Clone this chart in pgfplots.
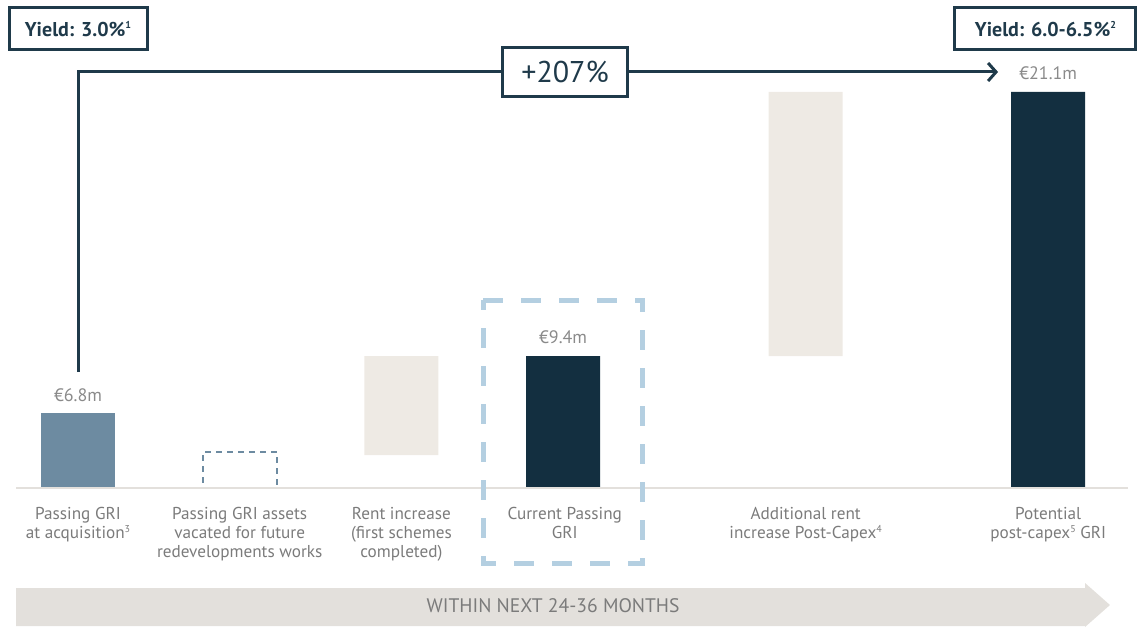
\documentclass[border=0pt]{standalone}
\usepackage{pgfplots}
\pgfplotsset{compat=1.18}
\usepackage{fontspec}
\setmainfont{PT Sans}
\usetikzlibrary{arrows.meta}

\definecolor{navy}{HTML}{132F40}
\definecolor{steel}{HTML}{6D8BA1}
\definecolor{beige}{HTML}{EEEAE4}
\definecolor{hilite}{HTML}{B4CFE1}
\definecolor{ink}{HTML}{1F3A4A}
\definecolor{band}{HTML}{E3E0DC}
\definecolor{lbl}{HTML}{7B7B7B}
\definecolor{vallbl}{HTML}{8A8A8A}

\newcommand{\fn}[1]{\raisebox{0.75ex}{\fontsize{5}{5}\selectfont #1}}

% bars drawn at their picture heights (the chart is not to scale)
\pgfplotsset{frame/.style={scale only axis, width=569pt, height=313.5pt,
  xmin=-0.4824, xmax=6.5554, ymin=-139, ymax=488,
  hide axis, clip=false, bar width=0.4576}}

\begin{document}
\begin{tikzpicture}
% floating bars (rent increases)
\begin{axis}[frame, ybar stacked]
  \addplot[draw=none, fill=none] coordinates {(2,33) (4.5,132)};
  \addplot[fill=beige, draw=none] coordinates {(2,99) (4.5,264)};
  \path (rel axis cs:0,0) rectangle (rel axis cs:1,1);
\end{axis}

\begin{axis}[frame, ybar, bar shift=0pt]
  \addplot[fill=steel, draw=none] coordinates {(0,75)};
  \addplot[draw=steel, fill=none, line width=1pt, dash pattern=on 3pt off 2.5pt] coordinates {(1,36)};
  \addplot[fill=navy, draw=none] coordinates {(3,132) (6,396)};

  \path (rel axis cs:0,0) rectangle (rel axis cs:1,1);
  % baseline
  \draw[band, line width=1pt] (axis cs:-0.383,0) -- (axis cs:6.493,0);
  % highlight around current passing GRI
  \draw[hilite, line width=2.5pt, dash pattern=on 10pt off 9pt, dash phase=5pt]
    (axis cs:2.505,188) rectangle (axis cs:3.494,-75);

  % value labels
  \node[text=vallbl, font=\fontsize{9}{9}\selectfont] at (axis cs:0,93) {€6.8m};
  \node[text=vallbl, font=\fontsize{9}{9}\selectfont] at (axis cs:3,151) {€9.4m};
  \node[text=vallbl, font=\fontsize{9}{9}\selectfont] at (axis cs:6,415) {€21.1m};

  % growth arrow
  \draw[ink, line width=1.5pt, -{Straight Barb[length=4pt,width=9pt]}]
    (axis cs:0,116) |- (axis cs:5.69,416);
  \node[draw=ink, line width=1.5pt, fill=white, minimum width=62.5pt, minimum height=24.5pt,
    inner sep=0pt, text=ink, font=\fontsize{15}{15}\selectfont] at (axis cs:3.012,416) {+207\%};

  % yield boxes
  \node[draw=ink, line width=1.5pt, fill=white, minimum width=69pt, minimum height=21pt,
    inner sep=0pt, text=ink, font=\bfseries\fontsize{10}{10}\selectfont] at (axis cs:0,459)
    {Yield: 3.0\%\fn{1}};
  \node[draw=ink, line width=1.5pt, fill=white, minimum width=90.5pt, minimum height=21pt,
    inner sep=0pt, text=ink, font=\bfseries\fontsize{10}{10}\selectfont] at (axis cs:5.983,459)
    {Yield: 6.0-6.5\%\fn{2}};

  % category labels
  \begin{scope}[every node/.style={anchor=north, align=center, text=lbl, inner sep=0pt,
      font=\fontsize{8.6}{9.5}\selectfont}]
    \node at (axis cs:0,-19) {Passing GRI\\at acquisition\fn{3}};
    \node at (axis cs:1,-19) {Passing GRI assets\\vacated for future\\redevelopments works};
    \node at (axis cs:2,-19) {Rent increase\\(first schemes\\completed)};
    \node at (axis cs:3.01,-19) {Current Passing\\GRI};
    \node at (axis cs:4.5,-19) {Additional rent\\increase Post-Capex\fn{4}};
    \node at (axis cs:6,-19) {Potential\\post-capex\fn{5} GRI};
  \end{scope}

  % time band
  \fill[band] (axis cs:-0.383,-100) -- (axis cs:6.228,-100) -- (axis cs:6.228,-95)
    -- (axis cs:6.382,-117) -- (axis cs:6.228,-139) -- (axis cs:6.228,-138)
    -- (axis cs:-0.383,-138) -- cycle;
  \node[text=lbl, font=\fontsize{9.8}{9.8}\selectfont] at (axis cs:2.938,-118) {WITHIN NEXT 24-36 MONTHS};
\end{axis}
\end{tikzpicture}
\end{document}
